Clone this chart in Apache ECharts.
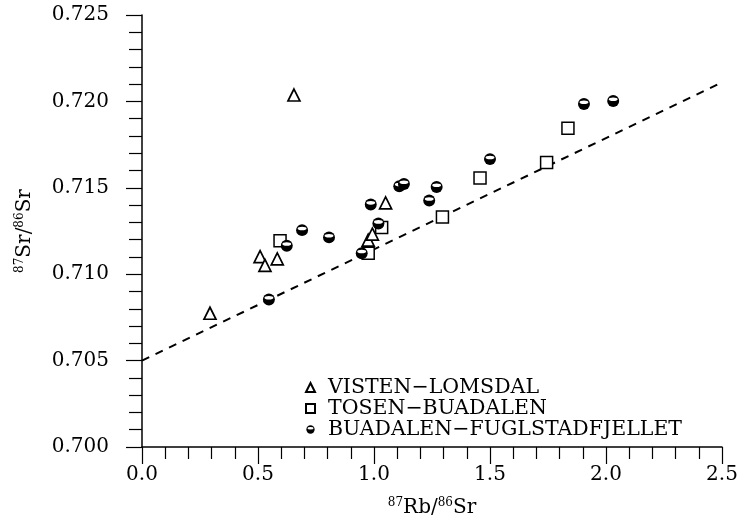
<!DOCTYPE html>
<html>
<head>
<meta charset="utf-8">
<script src="https://cdn.jsdelivr.net/npm/echarts@6/dist/echarts.min.js"></script>
<style>html,body{margin:0;padding:0;background:#fff;}#c{width:753px;height:524px;}</style>
</head>
<body>
<div id="c"></div>
<script>
// Series names
const seriesNames = ['VISTEN\u2212LOMSDAL', 'TOSEN\u2212BUADALEN', 'BUADALEN\u2212FUGLSTADFJELLET'];
// 87Rb/86Sr and 87Sr/86Sr values
const vistenX = [0.293, 0.509, 0.530, 0.583, 0.655, 0.975, 0.993, 1.050];
const vistenY = [0.70774, 0.71102, 0.71051, 0.71089, 0.72037, 0.71197, 0.71232, 0.71413];
const tosenX = [0.595, 0.975, 1.033, 1.295, 1.457, 1.744, 1.836];
const tosenY = [0.71194, 0.71121, 0.71270, 0.71331, 0.71556, 0.71646, 0.71845];
const fuglX = [0.547, 0.624, 0.690, 0.806, 0.947, 0.986, 1.019, 1.109, 1.129, 1.238, 1.270, 1.500, 1.905, 2.031];
const fuglY = [0.70854, 0.71165, 0.71255, 0.71213, 0.71121, 0.71403, 0.71293, 0.71509, 0.71522, 0.71426, 0.71505, 0.71666, 0.71985, 0.72002];
// Reference line (dashed)
const refLineX = [0.0, 2.5];
const refLineY = [0.7050, 0.7211];
// Axis ranges
const xRange = [0, 2.5, 0.5];
const yRange = [0.700, 0.725, 0.005];

const zip = (a, b) => a.map((v, i) => [v, b[i]]);
const FONT = 'DejaVu Serif';
const halfSvg = "<svg xmlns='http://www.w3.org/2000/svg' width='20' height='20' viewBox='0 0 20 20'><circle cx='10' cy='10' r='9.2' fill='black'/><ellipse cx='10' cy='7.4' rx='6.8' ry='2.7' fill='white'/></svg>";
const halfSym = 'image://data:image/svg+xml;charset=utf-8,' + encodeURIComponent(halfSvg);

const chart = echarts.init(document.getElementById('c'), null, {renderer: 'canvas'});
chart.setOption({
  animation: false,
  backgroundColor: '#fff',
  textStyle: {fontFamily: FONT, color: '#000'},
  grid: {left: 142, right: 31, top: 15, bottom: 72, containLabel: false},
  legend: {
    orient: 'vertical', left: 300, top: 372, itemGap: 0,
    itemWidth: 9, itemHeight: 9,
    data: seriesNames,
    textStyle: {fontFamily: FONT, fontSize: 20.5, color: '#000', lineHeight: 18, padding: [0,0,0,8]}
  },
  xAxis: {
    type: 'value', min: xRange[0], max: xRange[1], interval: xRange[2],
    name: '{sup|87}{b|Rb/}{sup|86}{b|Sr}', nameLocation: 'middle', nameGap: 50,
    nameTextStyle: {rich: {
      b: {fontFamily: FONT, fontSize: 20, color: '#000', lineHeight: 22},
      sup: {fontFamily: FONT, fontSize: 12, color: '#000', verticalAlign: 'top', lineHeight: 22, padding: [0,0,10,0]}
    }},
    axisLine: {onZero: false, lineStyle: {color: '#000', width: 1.5}},
    axisTick: {show: true, inside: false, length: 17, lineStyle: {color: '#000', width: 1.2}},
    minorTick: {show: true, splitNumber: 5, length: 12, lineStyle: {color: '#000', width: 1.2}},
    splitLine: {show: false},
    axisLabel: {fontFamily: FONT, fontSize: 20, color: '#000', margin: 18,
      formatter: v => v.toFixed(1)}
  },
  yAxis: {
    type: 'value', min: yRange[0], max: yRange[1], interval: yRange[2],
    name: '{sup|87}{b|Sr/}{sup|86}{b|Sr}', nameLocation: 'middle', nameGap: 106, nameRotate: 90,
    nameTextStyle: {rich: {
      b: {fontFamily: FONT, fontSize: 20, color: '#000', lineHeight: 22},
      sup: {fontFamily: FONT, fontSize: 12, color: '#000', verticalAlign: 'top', lineHeight: 22, padding: [0,0,10,0]}
    }},
    axisLine: {onZero: false, lineStyle: {color: '#000', width: 1.5}},
    axisTick: {show: true, inside: false, length: 16, lineStyle: {color: '#000', width: 1.2}},
    minorTick: {show: true, splitNumber: 5, length: 13, lineStyle: {color: '#000', width: 1.2}},
    splitLine: {show: false},
    axisLabel: {fontFamily: FONT, fontSize: 20, color: '#000', margin: 33,
      formatter: v => v.toFixed(3)}
  },
  series: [
    {
      name: 'ref', type: 'line', data: zip(refLineX, refLineY), symbol: 'none', silent: true,
      lineStyle: {color: '#000', width: 2, type: [8, 7]}, z: 1
    },
    {
      name: seriesNames[0], type: 'scatter', data: zip(vistenX, vistenY), symbol: 'triangle', symbolSize: 12,
      itemStyle: {color: '#fff', borderColor: '#000', borderWidth: 1.7, opacity: 1}, z: 3
    },
    {
      name: seriesNames[1], type: 'scatter', data: zip(tosenX, tosenY), symbol: 'rect', symbolSize: 12,
      itemStyle: {color: '#fff', borderColor: '#000', borderWidth: 1.5, opacity: 1}, z: 3
    },
    {
      name: seriesNames[2], type: 'scatter', data: zip(fuglX, fuglY), symbol: halfSym, symbolSize: 13,
      itemStyle: {color: '#000', opacity: 1}, z: 4
    }
  ]
});
</script>
</body>
</html>
